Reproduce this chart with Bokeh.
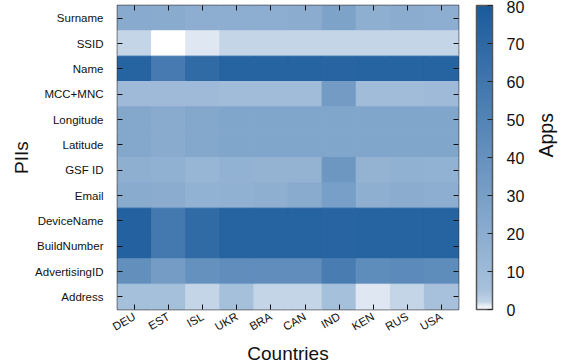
import numpy as np
from bokeh.plotting import figure
from bokeh.models import (ColumnDataSource, LinearColorMapper, ColorBar, FixedTicker,
                          CategoricalAxis)
from bokeh.embed import file_html
from bokeh.resources import INLINE
from math import pi

countries = ["DEU", "EST", "ISL", "UKR", "BRA", "CAN", "IND", "KEN", "RUS", "USA"]
piis = ["Surname", "SSID", "Name", "MCC+MNC", "Longitude", "Latitude", "GSF ID",
        "Email", "DeviceName", "BuildNumber", "AdvertisingID", "Address"]

surname = [22, 21, 19, 19, 19, 20, 27, 18, 20, 19]
ssid = [2, 0, 1, 2, 2, 2, 2, 2, 2, 2]
name = [74, 57, 68, 74, 74, 74, 73, 74, 74, 74]
mcc_mnc = [10, 10, 10, 9, 9, 9, 33, 9, 9, 10]
longitude = [24, 21, 24, 25, 25, 25, 25, 25, 25, 25]
latitude = [24, 21, 24, 25, 25, 25, 25, 25, 25, 25]
gsf_id = [18, 17, 14, 16, 15, 15, 36, 15, 17, 16]
email = [21, 20, 16, 17, 18, 21, 30, 18, 20, 19]
device_name = [75, 58, 68, 74, 74, 74, 73, 74, 74, 74]
build_number = [75, 58, 68, 74, 74, 74, 73, 74, 74, 74]
advertising_id = [42, 32, 40, 43, 43, 43, 55, 44, 45, 44]
address = [6, 6, 2, 6, 2, 2, 6, 1, 2, 5]

rows = [surname, ssid, name, mcc_mnc, longitude, latitude, gsf_id, email,
        device_name, build_number, advertising_id, address]

# palette (style): piecewise-linear white -> light blue -> dark blue
stops = [(0, "#ffffff"), (1, "#dde7f1"), (2, "#c0d3e6"), (5, "#a7c1dc"), (80, "#1b5b9c")]
def hex2rgb(h):
    return np.array([int(h[i:i + 2], 16) for i in (1, 3, 5)], dtype=float)
vals = np.linspace(0, 80, 256)
sv = np.array([s[0] for s in stops], dtype=float)
sc = np.array([hex2rgb(s[1]) for s in stops])
palette = []
for v in vals:
    rgb = [np.interp(v, sv, sc[:, k]) for k in range(3)]
    palette.append("#%02x%02x%02x" % tuple(int(round(c)) for c in rgb))

xs, ys, zs = [], [], []
for pii, row in zip(piis, rows):
    for c, v in zip(countries, row):
        xs.append(c); ys.append(pii); zs.append(v)
src = ColumnDataSource(dict(x=xs, y=ys, z=zs))

mapper = LinearColorMapper(palette=palette, low=0, high=80)

FONT = "Liberation Sans"
p = figure(frame_width=341, frame_height=304, x_range=countries, y_range=list(reversed(piis)),
           output_backend="svg", toolbar_location=None,
           min_border_left=117, min_border_right=110, min_border_top=5, min_border_bottom=55)
p.rect(x="x", y="y", width=1, height=1, source=src,
       fill_color={"field": "z", "transform": mapper},
       line_color={"field": "z", "transform": mapper}, line_width=1)

p.grid.visible = False
p.outline_line_color = "#333333"
p.outline_line_width = 1.5
p.x_range.range_padding = 0
p.y_range.range_padding = 0

for ax in (p.xaxis[0], p.yaxis[0]):
    ax.axis_line_color = None
    ax.major_tick_out = 0
    ax.major_tick_in = 5
    ax.major_tick_line_color = "#111111"
    ax.major_label_text_font = FONT
    ax.major_label_text_font_size = "11.5px"
    ax.major_label_text_color = "#111111"
    ax.axis_label_text_font = FONT
    ax.axis_label_text_font_size = "19px"
    ax.axis_label_text_font_style = "normal"
    ax.axis_label_text_color = "#111111"

p.xaxis.axis_label = "Countries"
p.xaxis.major_label_orientation = pi / 6
p.xaxis.major_label_standoff = 6
p.xaxis.axis_label_standoff = 2
p.yaxis.axis_label = "PIIs"
p.yaxis.major_label_standoff = 14
p.yaxis.axis_label_standoff = 0

# mirror ticks
def mirror():
    return CategoricalAxis(axis_line_color=None, major_tick_out=0, major_tick_in=5,
                           major_label_text_font_size="1px", major_label_text_color=None,
                           major_label_standoff=0, major_tick_line_color="#111111")
p.add_layout(mirror(), "above")
p.add_layout(mirror(), "right")

cb = ColorBar(color_mapper=mapper, ticker=FixedTicker(ticks=list(range(0, 81, 10))),
              width=16, height=304, padding=0, margin=0, location=(18, 0),
              background_fill_alpha=0, border_line_color=None,
              bar_line_color="#555555", bar_line_width=1.5,
              major_tick_in=5, major_tick_out=0, major_tick_line_color="#222222",
              major_label_text_font=FONT, major_label_text_font_size="16px",
              major_label_text_color="#111111", label_standoff=14)
p.add_layout(cb, "right")

apps_axis = CategoricalAxis(axis_line_color=None, major_tick_out=0, major_tick_in=0,
                            major_label_text_font_size="1px", major_label_text_color=None,
                            major_label_standoff=0, axis_label="Apps",
                            axis_label_text_font=FONT, axis_label_text_font_size="19.5px",
                            axis_label_text_font_style="normal", axis_label_text_color="#111111",
                            axis_label_standoff=18, axis_label_orientation=pi / 2)
p.add_layout(apps_axis, "right")

open("out.html", "w").write(file_html(p, INLINE))
